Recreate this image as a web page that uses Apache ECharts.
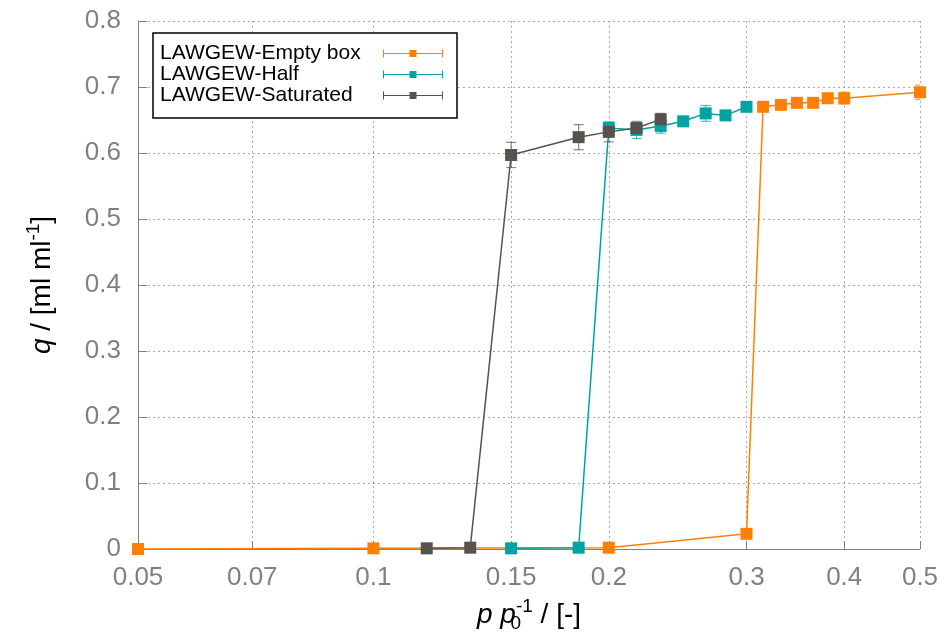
<!DOCTYPE html>
<html><head><meta charset="utf-8">
<script src="https://cdn.jsdelivr.net/npm/echarts@6/dist/echarts.min.js"></script>
<style>html,body{margin:0;padding:0;background:#fff}#c{width:946px;height:634px}</style>
</head><body><div id="c"></div>
<script>
// ---- data ----
const seriesNames = ['LAWGEW-Empty box', 'LAWGEW-Half', 'LAWGEW-Saturated'];
const emptyP   = [0.05, 0.1, 0.2, 0.3, 0.315, 0.332, 0.348, 0.365, 0.381, 0.4, 0.5];
const emptyQ   = [0.000, 0.001, 0.002, 0.023, 0.670, 0.673, 0.676, 0.676, 0.683, 0.683, 0.692];
const emptyErr = [0.001, 0.001, 0.001, 0.002, 0.005, 0.004, 0.004, 0.004, 0.006, 0.009, 0.011];
const halfP    = [0.15, 0.183, 0.2, 0.217, 0.233, 0.249, 0.266, 0.282, 0.3];
const halfQ    = [0.001, 0.002, 0.638, 0.635, 0.641, 0.648, 0.660, 0.657, 0.670];
const halfErr  = [0.001, 0.001, 0.006, 0.013, 0.011, 0.004, 0.012, 0.004, 0.004];
const satP     = [0.117, 0.133, 0.15, 0.183, 0.2, 0.217, 0.233];
const satQ     = [0.001, 0.002, 0.597, 0.624, 0.632, 0.638, 0.651];
const satErr   = [0.001, 0.001, 0.019, 0.019, 0.015, 0.008, 0.009];
const xTicks = [0.05, 0.07, 0.1, 0.15, 0.2, 0.3, 0.4, 0.5];
const xTickLabels = ['0.05', '0.07', '0.1', '0.15', '0.2', '0.3', '0.4', '0.5'];
const yTickLabels = ['0', '0.1', '0.2', '0.3', '0.4', '0.5', '0.6', '0.7', '0.8'];

// ---- styling ----
const colors = ['#ff8000', '#00a3a3', '#57524d'];
const FONT = 'Liberation Sans';
const groups = [[emptyP, emptyQ, emptyErr], [halfP, halfQ, halfErr], [satP, satQ, satErr]];

function errRenderer(color) {
  return function (params, api) {
    const x = api.value(0), y = api.value(1), e = api.value(2);
    const t = api.coord([x, y + e]);
    const b = api.coord([x, y - e]);
    const c = 5;
    const st = { stroke: color, lineWidth: 1.2, opacity: 0.7 };
    return { type: 'group', children: [
      { type: 'line', shape: { x1: t[0], y1: t[1], x2: b[0], y2: b[1] }, style: st },
      { type: 'line', shape: { x1: t[0] - c, y1: t[1], x2: t[0] + c, y2: t[1] }, style: st },
      { type: 'line', shape: { x1: b[0] - c, y1: b[1], x2: b[0] + c, y2: b[1] }, style: st }
    ]};
  };
}

const series = [];
groups.forEach((g, i) => {
  const [P, Q, E] = g;
  series.push({
    type: 'custom', name: seriesNames[i] + ' err', renderItem: errRenderer(colors[i]),
    data: P.map((p, k) => [p, Q[k], E[k]]), encode: { x: 0, y: 1 }, clip: true, silent: true
  });
  series.push({
    type: 'line', name: seriesNames[i], data: P.map((p, k) => [p, Q[k]]),
    symbol: 'rect', symbolSize: 12, showSymbol: true,
    lineStyle: { color: colors[i], width: 1.5 }, itemStyle: { color: colors[i] },
    emphasis: { disabled: true }
  });
});

const gridLine = { show: true, lineStyle: { color: '#a8a8a8', width: 1, type: [2, 3] } };

const option = {
  animation: false,
  backgroundColor: '#fff',
  grid: { left: 138, right: 26, top: 21, bottom: 85, containLabel: false, outerBoundsMode: 'none' },
  xAxis: {
    type: 'log', logBase: 10, min: 0.05, max: 0.5,
    axisLine: { show: true, lineStyle: { color: '#808080', width: 1 } },
    axisTick: { show: true, inside: true, length: 8, customValues: xTicks, lineStyle: { color: '#808080' } },
    axisLabel: {
      customValues: xTicks, margin: 16, color: '#808080', fontSize: 26, fontFamily: FONT,
      formatter: v => { let bi = 0; xTicks.forEach((t, i) => { if (Math.abs(t - v) < Math.abs(xTicks[bi] - v)) bi = i; }); return xTickLabels[bi]; }
    },
    splitLine: gridLine,
    minorTick: { show: false }, minorSplitLine: { show: false },
    name: '{i|p} {i|p}{sub|0}{sup|-1} / [-]', nameLocation: 'middle', nameGap: 48,
    nameTextStyle: {
      color: '#000', fontSize: 28, fontFamily: FONT, lineHeight: 36,
      rich: {
        i: { fontStyle: 'italic', fontSize: 28, fontFamily: FONT, color: '#000', lineHeight: 36 },
        sub: { fontSize: 19, fontFamily: FONT, color: '#000', verticalAlign: 'bottom', lineHeight: 16, width: 0 },
        sup: { fontSize: 19, fontFamily: FONT, color: '#000', verticalAlign: 'top', lineHeight: 16 }
      }
    }
  },
  yAxis: {
    type: 'value', min: 0, max: 0.8, interval: 0.1,
    axisLine: { show: true, lineStyle: { color: '#808080', width: 1 } },
    axisTick: { show: true, inside: true, length: 9, lineStyle: { color: '#808080' } },
    axisLabel: {
      margin: 17, color: '#808080', fontSize: 26, fontFamily: FONT,
      formatter: v => yTickLabels[Math.round(v * 10)]
    },
    splitLine: gridLine,
    name: '{i|q} / [ml ml{sup|-1}]', nameLocation: 'middle', nameGap: 78, nameRotate: 90,
    nameTextStyle: {
      color: '#000', fontSize: 28, fontFamily: FONT, lineHeight: 36,
      rich: {
        i: { fontStyle: 'italic', fontSize: 28, fontFamily: FONT, color: '#000', lineHeight: 36 },
        sup: { fontSize: 19, fontFamily: FONT, color: '#000', verticalAlign: 'top', lineHeight: 16 }
      }
    }
  },
  legend: {
    data: seriesNames, orient: 'vertical', left: 153, top: 33, align: 'right',
    icon: 'path://M0,0h1v8h-1zM59,0h1v8h-1zM0,3.5h60v1h-60zM26.5,0.5h7v7h-7z',
    itemWidth: 60, itemHeight: 8, itemGap: 0,
    padding: [10, 14, 12, 7], backgroundColor: '#fff', borderColor: '#000', borderWidth: 1.5, borderRadius: 0,
    itemStyle: { borderWidth: 0 },
    selectedMode: false,
    formatter: n => '{n|' + n + '}',
    textStyle: { rich: { n: { width: 218, align: 'left', fontSize: 21, lineHeight: 21, color: '#000', fontFamily: FONT } } }
  },
  series: series
};

const chart = echarts.init(document.getElementById('c'), null, { renderer: 'canvas' });
chart.setOption(option);
</script>
</body></html>
